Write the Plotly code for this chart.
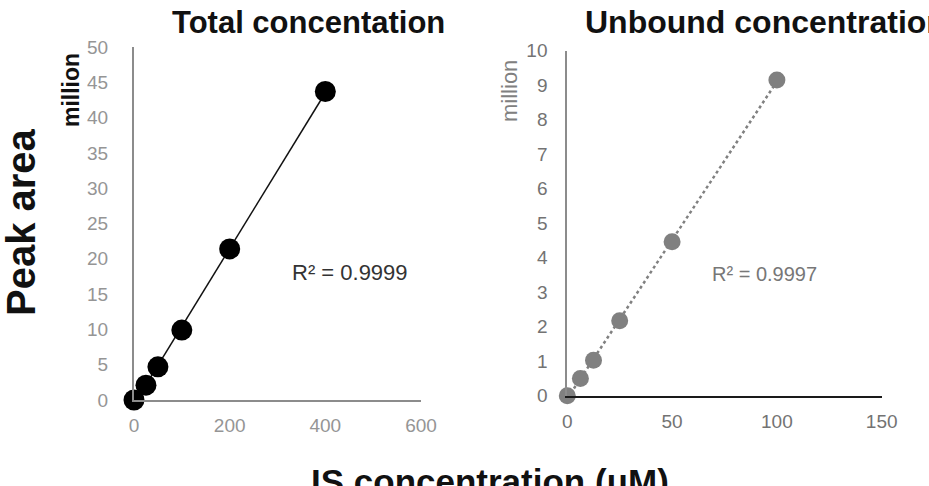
import numpy as np
import plotly.graph_objects as go

# Data (million peak area vs IS concentration, uM)
total_x = [0, 25, 50, 100, 200, 400]
total_y = [0.0, 2.1, 4.7, 9.9, 21.4, 43.7]
unbound_x = [0, 6.25, 12.5, 25, 50, 100]
unbound_y = [0.0, 0.50, 1.03, 2.17, 4.46, 9.15]

left_xticks = [0, 200, 400, 600]
left_yticks = [0, 5, 10, 15, 20, 25, 30, 35, 40, 45, 50]
right_xticks = [0, 50, 100, 150]
right_yticks = list(range(0, 11))

W, H = 929, 486
FONT = "Liberation Sans, Arial, sans-serif"

def px(x):
    return x / W

def py(y):
    return 1 - y / H

fig = go.Figure()

# trendlines (least squares through data)
p1 = np.polyfit(total_x, total_y, 1)
tx = np.array([min(total_x), max(total_x)])
fig.add_trace(go.Scatter(x=tx, y=np.polyval(p1, tx), mode="lines",
                         line=dict(color="#111111", width=1.5),
                         xaxis="x", yaxis="y", showlegend=False, hoverinfo="skip"))
fig.add_trace(go.Scatter(x=total_x, y=total_y, mode="markers",
                         marker=dict(color="#000000", size=21),
                         xaxis="x", yaxis="y", showlegend=False, cliponaxis=False))

p2 = np.polyfit(unbound_x, unbound_y, 1)
ux = np.array([min(unbound_x), max(unbound_x)])
fig.add_trace(go.Scatter(x=ux, y=np.polyval(p2, ux), mode="lines",
                         line=dict(color="#808080", width=2.5, dash="dot"),
                         xaxis="x2", yaxis="y2", showlegend=False, hoverinfo="skip"))
fig.add_trace(go.Scatter(x=unbound_x, y=unbound_y, mode="markers",
                         marker=dict(color="#808080", size=17),
                         xaxis="x2", yaxis="y2", showlegend=False, cliponaxis=False))

tickfont_l = dict(family=FONT, size=19, color="#959595")
tickfont_r = dict(family=FONT, size=19, color="#737373")

fig.update_layout(
    width=W, height=H,
    margin=dict(l=0, r=0, t=0, b=0, pad=0, autoexpand=False),
    showlegend=False,
    paper_bgcolor="white", plot_bgcolor="white",
    xaxis=dict(domain=[px(134), px(421)], range=[0, 600], tickvals=left_xticks,
               showgrid=False, zeroline=False, showline=True, linecolor="#8c8c8c", linewidth=2,
               ticks="outside", ticklen=7, tickcolor="rgba(0,0,0,0)", automargin=False,
               tickfont=tickfont_l, anchor="y"),
    yaxis=dict(domain=[py(400), py(47)], range=[0, 50], tickvals=left_yticks,
               showgrid=False, zeroline=False, showline=True, linecolor="#8c8c8c", linewidth=2,
               ticks="outside", ticklen=20, tickcolor="rgba(0,0,0,0)", automargin=False,
               tickfont=tickfont_l, anchor="x"),
    xaxis2=dict(domain=[px(567.3), px(881.7)], range=[0, 150], tickvals=right_xticks,
                showgrid=False, zeroline=False, showline=True, linecolor="#1a1a1a", linewidth=2,
                ticks="outside", ticklen=7, tickcolor="rgba(0,0,0,0)", automargin=False,
                tickfont=tickfont_r, anchor="y2"),
    yaxis2=dict(domain=[py(395.7), py(50.7)], range=[0, 10], tickvals=right_yticks,
                showgrid=False, zeroline=False, showline=True, linecolor="#8c8c8c", linewidth=2,
                ticks="outside", ticklen=14, tickcolor="rgba(0,0,0,0)", automargin=False,
                tickfont=tickfont_r, anchor="x2"),
)

ann = [
    dict(text="<b>Total concentation</b>", x=px(308), y=py(22), xanchor="center", yanchor="middle",
         font=dict(family=FONT, size=31, color="#111111")),
    dict(text="<b>Unbound concentration</b>", x=px(583), y=py(22), xanchor="left", yanchor="middle",
         font=dict(family=FONT, size=32, color="#111111")),
    dict(text="<b>Peak area</b>", x=px(21), y=py(222), xanchor="center", yanchor="middle",
         textangle=-90, font=dict(family=FONT, size=40, color="#111111")),
    dict(text="<b>IS concentration (μM)</b>", x=px(490), y=py(481), xanchor="center", yanchor="middle",
         font=dict(family=FONT, size=35, color="#111111")),
    dict(text="<b>million</b>", x=px(71), y=py(90), xanchor="center", yanchor="middle",
         textangle=-90, font=dict(family=FONT, size=23, color="#111111")),
    dict(text="million", x=px(510), y=py(91), xanchor="center", yanchor="middle",
         textangle=-90, font=dict(family=FONT, size=22, color="#808080")),
    dict(text="R² = 0.9999", x=px(290), y=py(272), xanchor="left", yanchor="middle",
         font=dict(family=FONT, size=22, color="#333333")),
    dict(text="R² = 0.9997", x=px(710), y=py(274), xanchor="left", yanchor="middle",
         font=dict(family=FONT, size=20, color="#777777")),
]
for a in ann:
    a.update(xref="paper", yref="paper", showarrow=False)
fig.update_layout(annotations=ann)

fig.write_html("out.html")
